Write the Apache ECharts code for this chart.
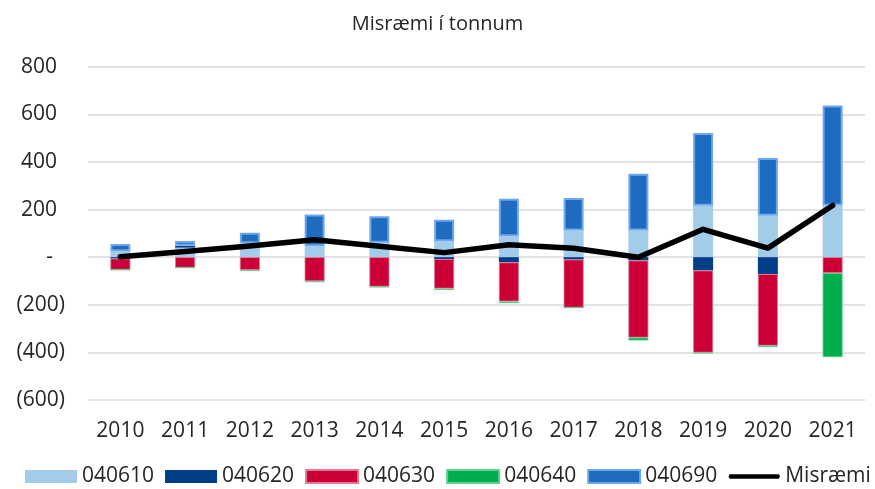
<!DOCTYPE html>
<html>
<head>
<meta charset="utf-8">
<script src="https://cdn.jsdelivr.net/npm/echarts@6/dist/echarts.min.js"></script>
<style>
  html, body { margin: 0; padding: 0; background: #fff; }
  #chart { width: 875px; height: 489px; }
</style>
</head>
<body>
<div id="chart"></div>
<script>
// Years on the category axis
const years = ['2010', '2011', '2012', '2013', '2014', '2015', '2016', '2017', '2018', '2019', '2020', '2021'];

// Tonnes per product code (positive and negative parts stack separately)
const s040610 = [25, 40, 58, 46, 60, 67, 88, 112, 112, 216, 174, 217];
const s040620 = [-6, 8, 0, 0, 0, -8, -22, -10, -14, -56, -71, 0];
const s040630 = [-47, -44, -54, -101, -124, -124, -164, -202, -324, -345, -301, -67];
const s040640 = [0, 0, -4, -4, -2, -6, -7, 0, -12, -3, -6, -353];
const s040690 = [30, 20, 45, 133, 112, 90, 157, 137, 238, 305, 243, 420];

// Net discrepancy line
const misraemi = [2, 24, 47, 73, 46, 19, 52, 37, 0, 117, 38, 217];

// Value-axis ticks
const yTicks = [-600, -400, -200, 0, 200, 400, 600, 800];

const FONT = '"Open Sans", "Noto Sans", sans-serif';
const TXT = '#262626';

// Legend glyph for the line series: a thick bar centred in a 52x13 box
const LINE_ICON = 'path://M0,0 M52,13 M1.5,4.3 L50.5,4.3 Q52.7,6.5 50.5,8.7 L1.5,8.7 Q-0.7,6.5 1.5,4.3 Z';

function barSeries(name, data, color, border, bw) {
  return {
    name: name,
    type: 'bar',
    stack: 'total',
    data: data,
    barWidth: 20,
    itemStyle: { color: color, borderColor: border, borderWidth: bw },
    emphasis: { disabled: true }
  };
}

const chart = echarts.init(document.getElementById('chart'), null, { renderer: 'canvas' });

chart.setOption({
  animation: false,
  backgroundColor: '#ffffff',
  title: {
    text: 'Misræmi í tonnum',
    left: 'center',
    top: 9,
    textStyle: { fontFamily: FONT, fontSize: 20, fontWeight: 'normal', color: TXT }
  },
  grid: { left: 88, right: 10, top: 66.7, bottom: 89, containLabel: false },
  legend: {
    left: 25,
    top: 466,
    padding: 0,
    itemWidth: 52,
    itemHeight: 13,
    itemGap: 11,
    textStyle: { fontFamily: FONT, fontSize: 21, color: TXT },
    data: [
      { name: '040610', icon: 'rect' },
      { name: '040620', icon: 'rect' },
      { name: '040630', icon: 'rect' },
      { name: '040640', icon: 'rect' },
      { name: '040690', icon: 'rect' },
      { name: 'Misræmi', icon: LINE_ICON, itemStyle: { color: '#000000', borderWidth: 0 } }
    ]
  },
  xAxis: {
    type: 'category',
    data: years,
    axisLine: { show: false },
    axisTick: { show: false },
    axisLabel: { fontFamily: FONT, fontSize: 21, color: TXT, margin: 21 }
  },
  yAxis: {
    type: 'value',
    min: yTicks[0],
    max: yTicks[yTicks.length - 1],
    interval: 200,
    axisLine: { show: false },
    axisTick: { show: false },
    splitLine: { lineStyle: { color: '#d9d9d9', width: 1.5 } },
    axisLabel: {
      margin: 23,
      fontFamily: FONT,
      fontSize: 21,
      color: TXT,
      formatter: function (v) {
        if (v === 0) return '{d|-}';
        if (v < 0) return '{n|(' + Math.abs(v) + ')}';
        return '{p|' + v + '}';
      },
      rich: {
        n: { fontFamily: FONT, fontSize: 21, color: TXT },
        p: { fontFamily: FONT, fontSize: 21, color: TXT, padding: [0, 8, 0, 0] },
        d: { fontFamily: FONT, fontSize: 21, color: TXT, padding: [0, 12, 0, 0] }
      }
    }
  },
  series: [
    barSeries('040610', s040610, '#a3cbea', '#a3cbea', 0),
    barSeries('040620', s040620, '#003f88', '#003f88', 0),
    barSeries('040630', s040630, '#cc0036', '#e07a92', 0.8),
    barSeries('040640', s040640, '#00ae4f', '#5ed08f', 0.8),
    barSeries('040690', s040690, '#1f6bc0', '#6ea8ec', 2),
    {
      name: 'Misræmi',
      type: 'line',
      data: misraemi,
      symbol: 'none',
      z: 5,
      lineStyle: { color: '#000000', width: 5.5, cap: 'round', join: 'round' },
      itemStyle: { color: '#000000' },
      emphasis: { disabled: true }
    }
  ]
});
</script>
</body>
</html>
